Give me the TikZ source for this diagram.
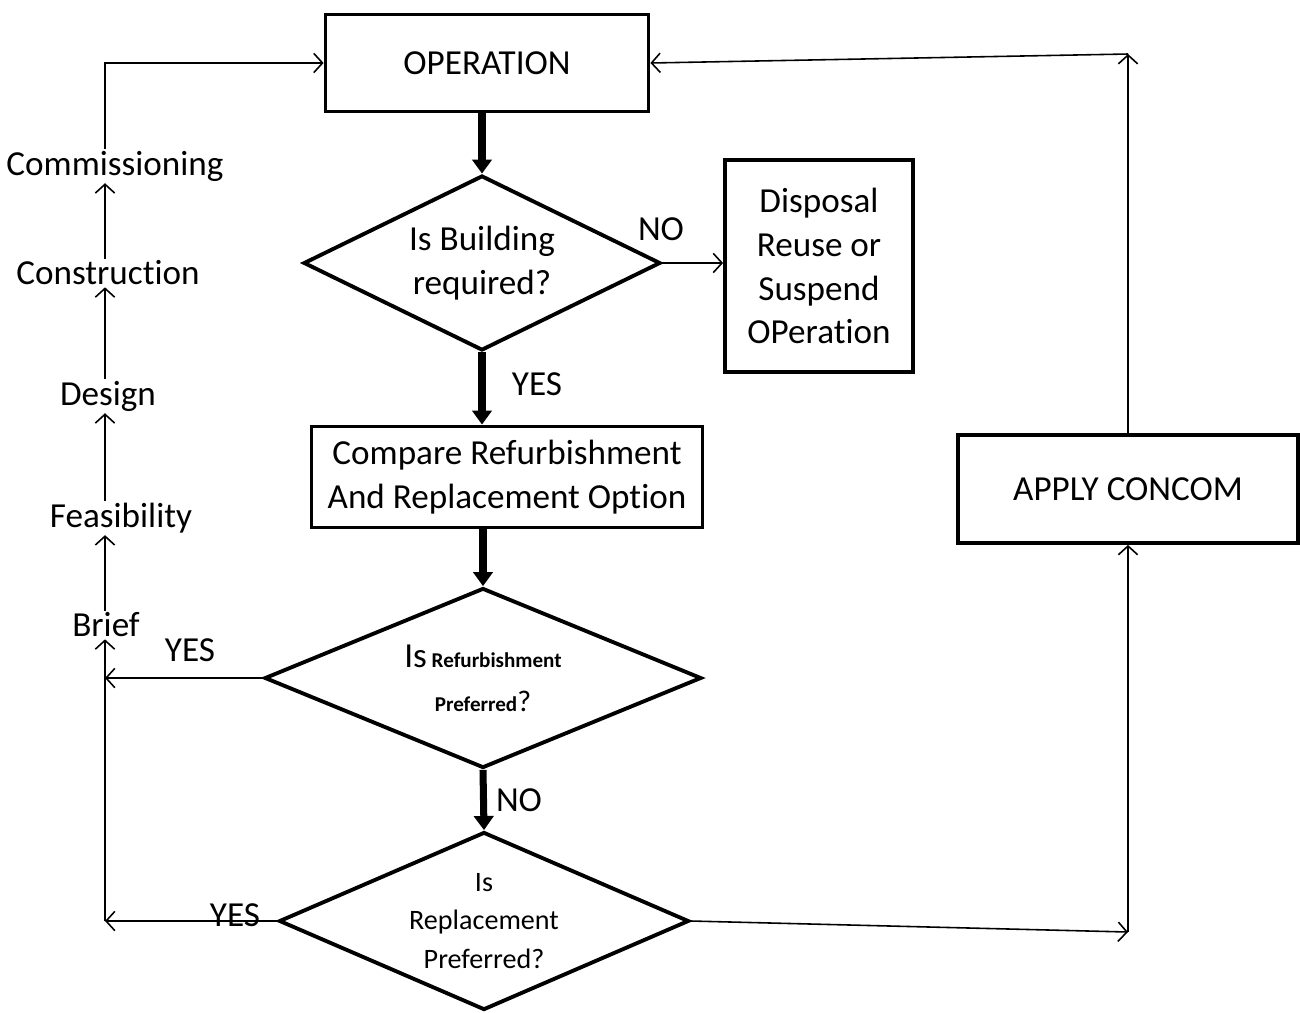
\documentclass[tikz,border=0pt]{standalone}
\usepackage{fontspec}
\setmainfont{Carlito}[RawFeature={-liga;-clig;-calt;-dlig;-ccmp}]
\usetikzlibrary{shapes.geometric,arrows.meta}
\tikzset{
  box/.style={draw, line width=2.2pt, align=center, inner sep=0pt, font=\fontsize{20}{25}\selectfont},
  decision/.style={draw, diamond, aspect=2, line width=2.2pt, align=center, inner sep=0pt},
  stage/.style={font=\fontsize{20}{24}\selectfont, inner sep=1pt},
  answer/.style={font=\fontsize{20}{24}\selectfont},
  flow/.style={line width=4pt, -{Triangle[length=8pt,width=11pt]}},
  link/.style={line width=0.9pt, -{Straight Barb[length=5pt,width=11pt]}}
}
\begin{document}
\begin{tikzpicture}[x=0.02cm, y=-0.02cm]
  \useasboundingbox (0,0) rectangle (1300,1012);
  % main column
  \node[box, minimum width=6.46cm, minimum height=1.94cm] (op) at (487,63) {OPERATION};
  \node[decision, minimum width=7.14cm, minimum height=3.5cm, font=\fontsize{20}{25}\selectfont] (need) at (482,263) {Is Building\\required?};
  \node[box, minimum width=3.76cm, minimum height=4.24cm] (disp) at (819,266) {Disposal\\Reuse or\\Suspend\\OPeration};
  \node[box, minimum width=7.82cm, minimum height=2.02cm] (cmp) at (507,477) {Compare Refurbishment\\And Replacement Option};
  \node[decision, minimum width=8.74cm, minimum height=3.6cm, font=\fontsize{12}{25}\selectfont] (refurb) at (483,678)
    {{\fontsize{20}{25}\selectfont Is} {\bfseries Refurbishment}\\
     {\bfseries Preferred}{\fontsize{17}{25}\selectfont ?}};
  \node[decision, minimum width=8.2cm, minimum height=3.56cm, font=\fontsize{16}{22}\selectfont] (repl) at (484,921) {Is\\Replacement\\Preferred?};
  \node[box, minimum width=6.8cm, minimum height=2.16cm] (apply) at (1128,489) {APPLY CONCOM};
  % life cycle stages
  \node[stage] (comm) at (115,166) {Commissioning};
  \node[stage] (cons) at (108,273) {Construction};
  \node[stage] (des) at (108,396) {Design};
  \node[stage] (feas) at (121,518) {Feasibility};
  \node[stage] (brief) at (106,625) {Brief};
  % corners
  \coordinate (ctop) at (105,63);
  \coordinate (cbot) at (105,921);
  \coordinate (rtop) at (1128,54);
  \coordinate (rbot) at (1128,932);
  % answers
  \node[answer] (no1) at (661,229) {NO};
  \node[answer] (yes1) at (537,384) {YES};
  \node[answer] (yes2) at (190,650) {YES};
  \node[answer] (no2) at (519,800) {NO};
  \node[answer] (yes3) at (235,915) {YES};
  % thick flow
  \draw[flow] (need.north |- op.south) -- (need.north);
  \draw[flow] (need.south) -- (need.south |- cmp.north);
  \draw[flow] (refurb.north |- cmp.south) -- (refurb.north);
  \draw[flow] (refurb.south) -- (repl.north);
  % thin links
  \draw[link] (need.east) -- (disp.west |- need.east);
  \draw[link] (refurb.west) -- (refurb.west -| cbot);
  \draw[link] (repl.west) -- (cbot);
  \draw[link] (cbot) -- (cbot |- brief.south);
  \draw[link] (brief.north -| cbot) -- (feas.south -| cbot);
  \draw[link] (feas.north -| cbot) -- (des.south -| cbot);
  \draw[link] (des.north -| cbot) -- (cons.south -| cbot);
  \draw[link] (cons.north -| cbot) -- (comm.south -| cbot);
  \draw[link] (comm.north -| cbot) -- (ctop) -- (op.west);
  \draw[link] (repl.east) -- (rbot);
  \draw[link] (rbot) -- (apply.south);
  \draw[link] (apply.north) -- (rtop);
  \draw[link] (rtop) -- (op.east);
\end{tikzpicture}
\end{document}
